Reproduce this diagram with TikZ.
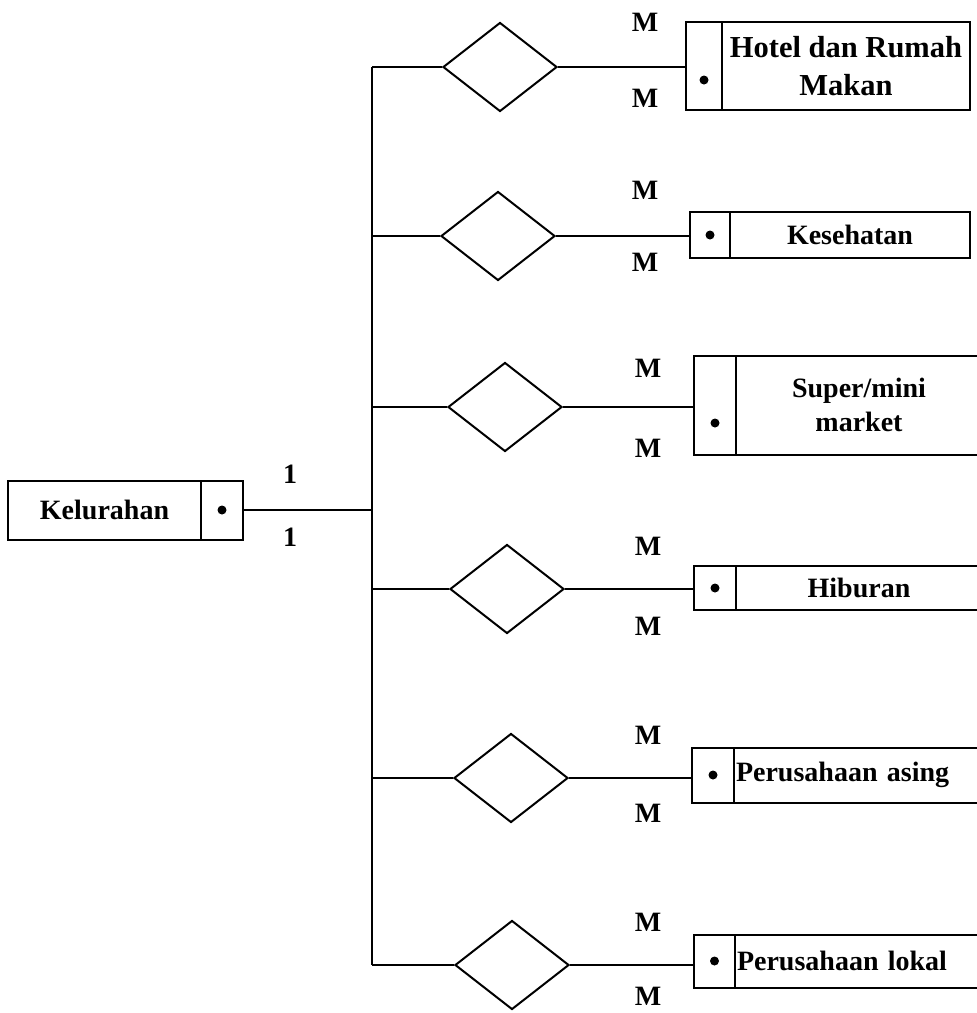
\documentclass[tikz,border=0pt]{standalone}
\usepackage{fontspec}
\setmainfont{Liberation Serif}
\usetikzlibrary{shapes.geometric, positioning}

\begin{document}
\begin{tikzpicture}[x=1pt, y=-1pt,
    every node/.style={font=\fontsize{28}{34}\selectfont\bfseries},
    line/.style={line width=2pt},
    keycell/.style={rectangle, draw, line width=2pt, outer sep=0pt, inner sep=0pt, minimum width=#1},
    keycell/.default=40pt,
    entity/.style={rectangle, draw, line width=2pt, outer sep=0pt, inner sep=2pt, align=center},
    relation/.style={diamond, draw, line width=2pt, minimum width=114pt, minimum height=89pt, inner sep=0pt},
    dot/.style={circle, fill, inner sep=0pt, minimum size=9pt},
    card/.style={inner sep=0pt},
    ]
\useasboundingbox (0,0) rectangle (977,1013);

% Kelurahan
\node[keycell=42pt, minimum height=59pt] (kkey) at (222,510) {};
\node[entity, left=0pt of kkey, minimum width=193pt, minimum height=59pt] (kel) {Kelurahan};
\node[dot] (kdot) at (kkey) {};

% entities on the right
\node[keycell=36pt, minimum height=88pt] (k1) at (704,66) {};
\node[entity, right=0pt of k1, minimum width=248pt, minimum height=88pt,
      font=\fontsize{30.5}{38}\selectfont\bfseries] (e1) {Hotel dan Rumah\\Makan};
\node[dot, yshift=-14pt] (d1) at (k1) {};

\node[keycell=40pt, minimum height=46pt] (k2) at (710,235) {};
\node[entity, right=0pt of k2, minimum width=240pt, minimum height=46pt] (e2) {Kesehatan};
\node[dot] (d2) at (k2) {};

\node[keycell=42pt, minimum height=99pt] (k3) at (715,405) {};
\node[entity, right=0pt of k3, minimum width=246pt, minimum height=99pt] (e3) {Super/mini\\market};
\node[dot, yshift=-18pt] (d3) at (k3) {};

\node[keycell=42pt, minimum height=44pt] (k4) at (715,588) {};
\node[entity, right=0pt of k4, minimum width=246pt, minimum height=44pt] (e4) {Hiburan};
\node[dot] (d4) at (k4) {};

\node[keycell=42pt, minimum height=55pt] (k5) at (713,775) {};
\node[entity, right=0pt of k5, text width=242pt, align=left, minimum height=55pt] (e5) {Perusahaan asing};
\node[dot] (d5) at (k5) {};

\node[keycell=41pt, minimum height=53pt] (k6) at (714.5,961) {};
\node[entity, right=0pt of k6, text width=242pt, align=left, minimum height=53pt] (e6) {Perusahaan lokal};
\node[dot] (d6) at (k6) {};

% relationships
\node[relation] (r1) at (500,67) {};
\node[relation] (r2) at (498,236) {};
\node[relation] (r3) at (505,407) {};
\node[relation] (r4) at (507,589) {};
\node[relation] (r5) at (511,778) {};
\node[relation] (r6) at (512,965) {};

% trunk
\coordinate (t1) at (372,67);
\coordinate (t6) at (372,965);
\draw[line] (t1) -- (t6);
\draw[line] (kkey.east) -- (kkey.east -| t1);
\foreach \i in {1,...,6} {
    \draw[line] (r\i.west -| t1) -- (r\i.west);
    \draw[line] (r\i.east) -- (r\i.east -| k\i.west);
}

% cardinalities
\node[card] (c0a) at (290,474) {1};
\node[card] (c0b) at (290,537) {1};
\node[card] (c1a) at (645,22) {M};
\node[card] (c1b) at (645,98) {M};
\node[card] (c2a) at (645,190) {M};
\node[card] (c2b) at (645,262) {M};
\node[card] (c3a) at (648,368) {M};
\node[card] (c3b) at (648,448) {M};
\node[card] (c4a) at (648,546) {M};
\node[card] (c4b) at (648,626) {M};
\node[card] (c5a) at (648,735) {M};
\node[card] (c5b) at (648,813) {M};
\node[card] (c6a) at (648,922) {M};
\node[card] (c6b) at (648,996) {M};

\end{tikzpicture}
\end{document}
